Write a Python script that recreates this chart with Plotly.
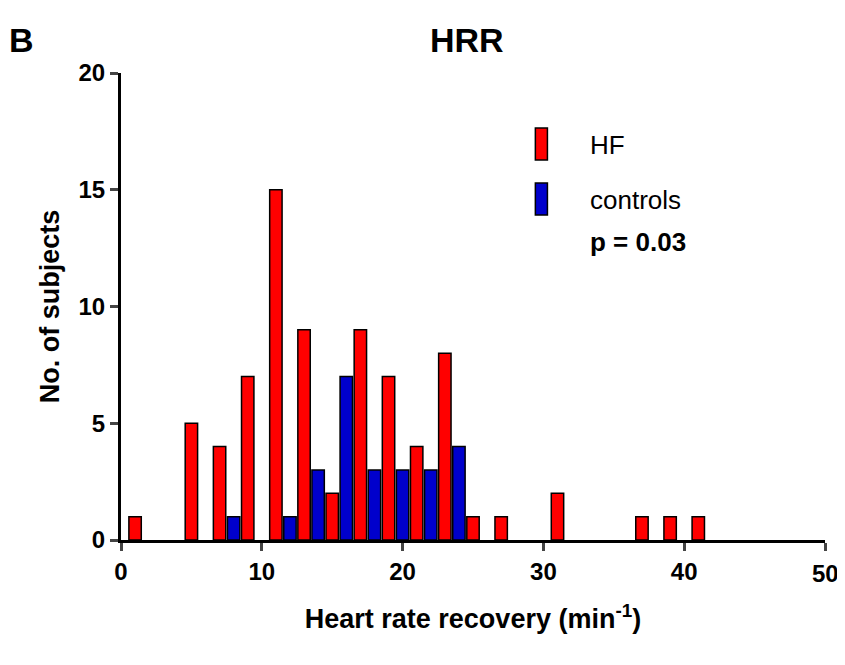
import plotly.graph_objects as go

hf_x = [1, 5, 7, 9, 11, 13, 15, 17, 19, 21, 23, 25, 27, 31, 37, 39, 41]
hf_n = [1, 5, 4, 7, 15, 9, 2, 9, 7, 4, 8, 1, 1, 2, 1, 1, 1]
ctrl_x = [8, 12, 14, 16, 18, 20, 22, 24]
ctrl_n = [1, 1, 3, 7, 3, 3, 3, 4]
x_ticks = [0, 10, 20, 30, 40, 50]

OFF = 8  # page body margin
W, H = 845 - 2 * OFF, 665 - 2 * OFF
L, T = 121 - OFF, 73 - OFF
R = 12
B = H - (540 - OFF)
pw, ph = W - L - R, H - T - B
x0px, x1px = 121, 821  # where 0 and 50 land on the page

def px(x):
    return (x - x0px) / (x1px - x0px)

def py(y):
    return (H - B - (y - OFF)) / ph

fig = go.Figure()
fig.add_bar(x=hf_x, y=hf_n, width=0.88, marker=dict(color="#ff0000", line=dict(color="black", width=1.5)), name="HF")
fig.add_bar(x=ctrl_x, y=ctrl_n, width=0.88, marker=dict(color="#0000cc", line=dict(color="black", width=1.5)), name="controls")

font = dict(family="Arial, Liberation Sans", size=22, color="black")
fig.update_layout(
    width=W, height=H, margin=dict(l=L, r=R, t=T, b=B),
    plot_bgcolor="white", paper_bgcolor="white", showlegend=False, barmode="overlay",
    font=font,
)
fig.update_xaxes(range=[0, 50], tickvals=x_ticks, showline=True, linecolor="black", linewidth=3,
                 ticks="outside", ticklen=8, tickwidth=3, showgrid=False, zeroline=False,
                 tickfont=dict(size=24, color="black", weight="bold"),
                 title=dict(text="<b>Heart rate recovery (min<sup>-1</sup>)</b>", font=dict(size=27), standoff=26))
fig.update_yaxes(range=[0, 20], tickvals=[0, 5, 10, 15, 20], showline=True, linecolor="black", linewidth=3,
                 ticks="outside", ticklen=8, tickwidth=3, showgrid=False, zeroline=False,
                 tickfont=dict(size=24, color="black", weight="bold"),
                 title=dict(text="<b>No. of subjects</b>", font=dict(size=27), standoff=12))

# last tick label gets dropped at the edge, so put it in by hand
fig.add_annotation(text="<b>%d</b>" % x_ticks[-1], xref="x", yref="paper", x=x_ticks[-1], y=py(573),
                   xanchor="center", yanchor="middle", showarrow=False, font=dict(size=24))

# legend drawn by hand
for y0, y1, c in [(128, 160, "#ff0000"), (183, 215, "#0000cc")]:
    fig.add_shape(type="rect", xref="paper", yref="paper", x0=px(533), x1=px(545), y0=py(y1), y1=py(y0),
                  fillcolor=c, line=dict(color="black", width=1.5))
for txt, y in [("HF", 145), ("controls", 200), ("<b>p = 0.03</b>", 242)]:
    fig.add_annotation(text=txt, xref="paper", yref="paper", x=px(585), y=py(y), xanchor="left", yanchor="middle",
                       showarrow=False, font=dict(size=26))
fig.add_annotation(text="<b>HRR</b>", xref="paper", yref="paper", x=px(465), y=py(40),
                   xanchor="center", yanchor="middle", showarrow=False, font=dict(size=34))
fig.add_annotation(text="<b>B</b>", xref="paper", yref="paper", x=px(22), y=py(40),
                   xanchor="center", yanchor="middle", showarrow=False, font=dict(size=34))

fig.write_html("out.html")
